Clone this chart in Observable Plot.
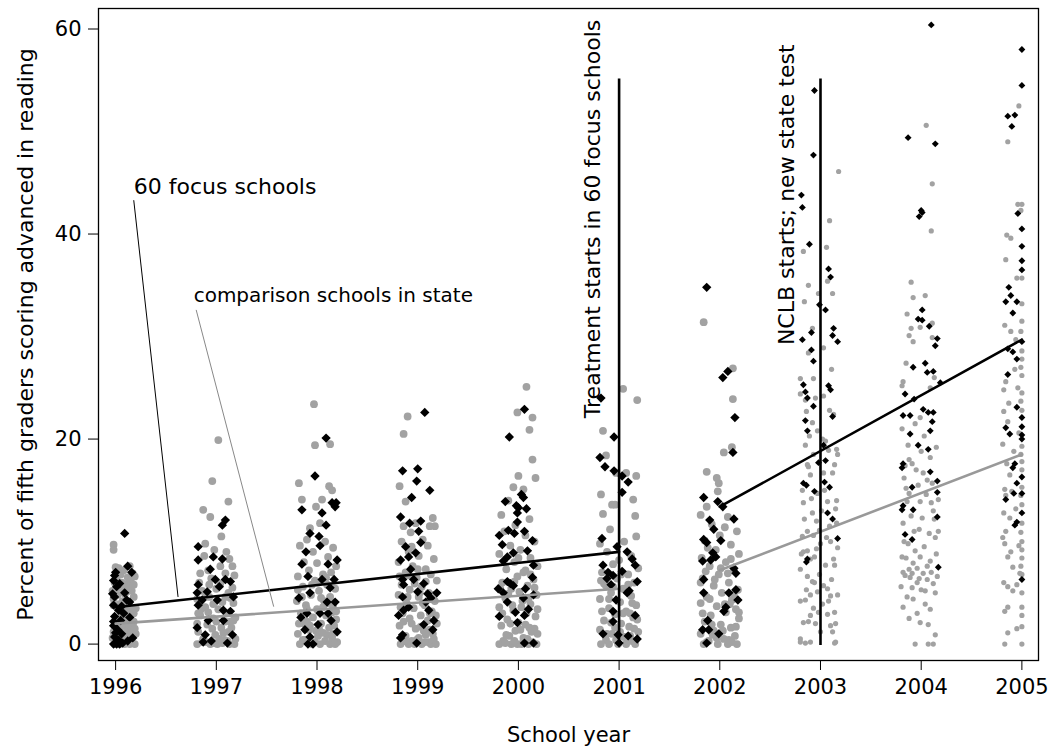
<!DOCTYPE html>
<html><head><meta charset="utf-8">
<script src="https://cdn.jsdelivr.net/npm/d3@7"></script>
<script src="https://cdn.jsdelivr.net/npm/@observablehq/plot@0.6"></script>
<style>html,body{margin:0;padding:0;background:#fff}svg{display:block}</style>
</head><body><div id="chart"></div>
<script>
// School years on the x axis
const years = [1996,1997,1998,1999,2000,2001,2002,2003,2004,2005];
const yTicks = [0,20,40,60];

// Each point: [jitter in hundredths of a year, percent advanced]
// 60 focus schools (black diamonds)
const focus1996 = [[9,10.8],[12,7.6],[16,7.0],[0,7.0],[-2,6.2],[1,5.6],[9,5.0],[-1,4.6],[14,4.1],[-2,3.8],[3,3.3],[8,3.0],[-1,2.7],[5,2.3],[-2,1.8],[2,1.4],[6,1.0],[-1,0.7],[3,0.4],[-2,0],[1,0],[4,0],[7,0.1],[17,0.6],[14,2.6],[11,4.3],[4,5.9],[-2,2.2],[0,1.1],[2,0.2],[12,0.3],[-3,4.9],[6,3.7],[-1,6.7]];
const focus1997 = [[9,12.1],[6,11.6],[-18,9.5],[-18,8.2],[-3,8.5],[6,8.3],[-6,7.3],[9,6.3],[14,6.1],[-18,5.8],[-9,5.1],[-19,5.0],[1,4.3],[17,4.6],[7,3.3],[14,3.2],[-18,3.8],[-8,2.3],[-19,1.6],[-11,0.9],[16,0.9],[11,0.1],[7,2.3],[-1,6.3],[-14,4.3],[3,5.6],[-5,0.3],[-13,0.2]];
const focus1998 = [[9,20.1],[-2,16.4],[15,13.8],[19,13.8],[18,13.4],[-15,13.1],[-7,10.8],[2,10.5],[5,12.8],[9,11.6],[3,9.6],[-11,9.0],[20,8.2],[11,7.8],[-15,7.8],[-9,6.6],[5,6.3],[17,6.3],[13,5.5],[-18,4.5],[-7,5.0],[10,4.1],[18,4.1],[-10,3.0],[3,3.0],[11,3.0],[1,1.9],[-12,1.4],[-7,0.7],[-9,0],[-4,0],[14,2.3],[-16,2.6],[20,1.2]];
const focus1999 = [[7,22.6],[-15,16.9],[0,17.1],[-1,15.9],[12,15.0],[-6,14.3],[-17,12.4],[-8,11.8],[3,12.0],[1,11.0],[3,9.9],[-12,9.5],[-2,8.9],[-17,8.2],[-9,8.5],[-7,7.3],[-15,6.3],[-4,6.3],[6,5.9],[-14,5.8],[0,5.1],[-15,4.6],[13,4.5],[8,4.1],[-9,3.6],[-14,3.3],[11,3.3],[16,2.3],[-19,2.8],[6,1.9],[15,1.4],[-15,0.9],[-17,0.6],[-1,0.1],[10,4.9],[19,5.0]];
const focus2000 = [[6,22.9],[-9,20.2],[-13,13.9],[3,14.6],[5,14.3],[-2,13.5],[0,13.3],[8,13.2],[-1,12.8],[-1,11.9],[-19,10.6],[-10,11.1],[-4,10.8],[6,11.0],[14,10.1],[-16,9.7],[-5,8.9],[9,9.1],[-15,8.1],[-11,8.5],[15,7.7],[14,6.5],[-11,6.1],[-8,5.9],[-5,5.7],[-20,5.4],[7,5.4],[-15,5.0],[5,4.5],[15,4.8],[-11,4.1],[10,3.4],[-3,3.1],[-19,2.7],[6,2.8],[-1,2.1],[6,0.1],[15,0.1]];
const focus2001 = [[-18,24.0],[-5,20.2],[-19,18.2],[-14,17.3],[-5,16.9],[3,16.4],[9,15.8],[3,14.8],[-17,10.3],[-2,9.5],[8,9.0],[-16,7.7],[16,7.7],[-11,7.0],[-6,6.7],[3,7.1],[18,6.1],[-8,5.8],[10,5.2],[8,5.0],[-6,3.2],[16,2.8],[-6,2.2],[-16,1.0],[-1,0.9],[9,0.8],[18,0.5],[0,0.1],[-12,6.4],[13,8.3],[-3,4.3]];
const focus2002 = [[-13,34.8],[3,26.0],[8,26.6],[15,22.1],[13,18.7],[-16,14.3],[-2,13.9],[3,13.4],[14,12.2],[-6,11.2],[-16,10.2],[-13,9.9],[1,10.1],[-7,8.9],[-4,8.5],[-9,8.2],[-17,8.1],[14,7.4],[16,6.9],[-16,6.3],[16,5.3],[-16,5.0],[9,5.0],[6,3.6],[4,3.2],[-12,2.3],[-17,1.4],[-11,1.4],[-1,1.0],[-13,0.1],[-10,12.1],[18,4.3]];
const focus2003 = [[-6,54.0],[-7,47.7],[-19,43.8],[-18,42.6],[-11,39.0],[8,36.6],[10,35.8],[-1,33.1],[5,32.6],[13,30.8],[12,30.1],[17,29.5],[-9,30.4],[-18,29.7],[-9,28.7],[-7,27.6],[-17,25.3],[-15,24.6],[-13,24.0],[8,25.2],[10,24.8],[-7,23.2],[-15,21.8],[-13,20.8],[12,22.2],[3,19.4],[-2,17.7],[5,17.9],[-17,15.7],[-14,15.5],[4,15.8],[9,15.3],[-6,14.9],[7,12.8],[12,12.2],[17,10.3],[-13,8.3],[-14,8.0]];
const focus2004 = [[10,60.4],[-13,49.4],[14,48.8],[0,42.3],[-2,41.7],[1,42.1],[1,32.6],[-3,31.7],[1,31.6],[8,31.0],[16,29.8],[14,29.1],[-8,27.0],[4,27.4],[6,26.5],[12,26.6],[19,25.5],[-16,24.4],[-7,23.9],[-18,22.3],[-11,22.3],[2,22.9],[7,22.6],[12,22.6],[11,21.7],[9,20.8],[-11,20.5],[-3,19.4],[7,19.0],[-18,17.6],[-19,17.2],[16,15.9],[9,16.8],[-9,15.3],[-18,13.5],[-19,13.1],[-8,13.1],[16,14.8],[16,12.4],[-16,10.7],[-9,10.2],[17,7.5]];
const focus2005 = [[0,58.0],[0,54.5],[-14,51.5],[-7,51.6],[-10,50.5],[-4,42.0],[0,40.5],[0,38.8],[0,37.4],[0,36.5],[-13,34.8],[-11,34.0],[-16,33.4],[-5,33.4],[-9,32.3],[0,29.5],[-14,28.8],[-9,28.5],[-5,27.8],[-14,26.3],[-5,23.1],[0,22.1],[-16,21.1],[-12,20.5],[0,21.2],[0,20.4],[0,20.0],[-7,17.6],[-9,17.2],[0,16.3],[-5,15.7],[0,14.7],[-8,14.7],[-16,14.1],[0,12.8],[-5,11.9],[-7,11.6],[0,6.3]];

// comparison schools in state (grey dots)
const comp1996 = [[-2,9.7],[-2,9.2],[0,7.5],[5,6.8],[8,7.2],[12,6.5],[-1,6.0],[4,5.5],[10,5.8],[16,5.2],[18,4.6],[2,4.8],[7,4.2],[13,4.0],[-2,3.8],[20,3.5],[5,3.2],[10,3.0],[15,2.8],[0,2.5],[18,2.2],[3,2.0],[8,1.8],[13,1.5],[-2,1.2],[20,1.0],[6,0.9],[11,0.6],[16,0.4],[1,0.3],[4,0],[9,0],[14,0],[19,0],[-1,0],[7,0.2],[12,1.3],[17,1.9],[2,3.5],[15,6.2],[9,4.9],[-3,5.2],[19,6.6],[6,6.0],[11,2.4],[3,7.4],[14,7.6],[18,3.0],[9,3.6],[-1,1.6],[16,1.1],[5,1.2],[11,5.1],[1,6.4],[7,5.4],[13,5.6],[17,6.9],[-2,4.4],[4,3.9],[11,3.4],[16,3.3],[0,1.8],[6,2.6],[14,1.8],[19,1.5],[8,0.5],[3,1.0],[-3,0.6],[12,2.0],[18,5.8]];
const comp1997 = [[2,19.9],[-4,15.9],[12,13.9],[-13,13.1],[-6,12.4],[5,10.5],[-11,9.8],[10,9.0],[16,7.6],[-16,6.9],[-12,8.6],[-2,9.2],[13,8.3],[-8,7.2],[4,7.6],[-17,6.0],[-5,6.4],[9,6.9],[18,6.7],[-14,5.2],[0,5.4],[12,5.0],[-19,4.4],[-7,4.6],[6,4.1],[17,4.0],[-11,3.6],[2,3.4],[10,3.0],[19,2.6],[-16,2.8],[-3,2.5],[14,2.2],[-9,1.9],[5,1.6],[-18,1.2],[12,1.2],[-1,0.9],[19,0.5],[-13,0.5],[8,0.4],[-6,0],[-19,0],[1,0],[13,0],[18,0],[-10,0.2],[6,0.1],[-15,3.4],[16,5.5],[-3,3.9],[9,2.2],[-18,3.0],[-8,3.1],[0,2.2],[7,1.1],[15,1.6],[-14,0.2],[-4,1.5],[3,0.5],[11,0.3],[17,2.3],[-10,4.9],[4,5.9],[14,4.5],[-19,2.0],[-2,0.1],[9,4.6],[-7,5.8]];
const comp1998 = [[-3,23.4],[13,19.5],[-2,19.4],[-18,15.7],[12,15.4],[15,15.0],[-15,14.1],[5,14.1],[-1,13.4],[-7,11.3],[16,9.4],[11,8.5],[-17,9.6],[-10,10.2],[3,11.8],[-4,9.0],[8,10.0],[-13,8.0],[19,7.6],[0,7.9],[-8,7.2],[14,7.0],[-19,6.6],[6,6.8],[-2,6.2],[10,5.8],[-14,5.6],[18,5.4],[2,5.2],[-6,4.8],[13,4.6],[-20,4.2],[7,4.2],[-11,3.8],[16,3.6],[0,3.4],[-16,3.0],[9,2.8],[-4,2.6],[19,2.4],[-13,2.0],[4,2.0],[12,1.6],[-8,1.4],[-19,1.0],[16,1.0],[1,0.8],[-12,0.4],[8,0.3],[20,0.2],[-17,0],[-5,0],[3,0],[13,0],[18,0],[-1,1.3],[-10,2.2],[15,3.1],[6,3.6],[-15,4.6],[-18,2.0],[-7,1.8],[2,1.5],[10,0.9],[17,1.8],[-14,0.4],[-2,0.2],[6,1.1],[15,0.6],[-10,3.4],[4,4.5],[11,4.0],[19,3.2],[-5,5.8],[9,6.5],[-19,5.3],[1,6.0]];
const comp1999 = [[-10,22.2],[-14,20.5],[-18,15.4],[-12,13.9],[15,12.3],[17,11.5],[12,11.5],[-14,11.5],[-7,10.9],[-2,11.8],[5,10.2],[-16,10.0],[10,9.6],[-9,9.0],[1,8.6],[16,8.3],[-19,8.0],[-5,7.6],[8,7.3],[-12,7.0],[13,6.8],[-1,6.5],[19,6.2],[-16,5.8],[4,5.6],[-8,5.3],[11,5.0],[-19,4.8],[1,4.6],[17,4.2],[-11,4.0],[7,3.8],[-4,3.5],[14,3.2],[-15,3.0],[3,2.8],[-8,2.5],[10,2.3],[19,2.0],[-18,1.8],[-2,1.5],[6,1.3],[15,1.0],[-12,0.8],[1,0.6],[-6,0.3],[11,0.2],[-17,0],[-9,0],[4,0],[13,0],[18,0],[-3,0],[8,0.9],[-14,2.2],[16,4.8],[0,7.3],[-6,9.5],[-17,3.6],[-6,2.0],[3,1.7],[12,1.4],[18,2.8],[-13,0.3],[-1,0.4],[7,0.2],[16,0.5],[-10,4.6],[5,4.0],[12,3.0],[-3,5.9],[8,6.1],[-18,6.6],[2,5.0],[-9,6.7]];
const comp2000 = [[8,25.1],[-1,22.6],[14,22.1],[11,20.9],[14,18.0],[17,16.2],[0,16.4],[-5,15.3],[5,15.1],[-10,14.0],[-17,12.6],[11,12.2],[-3,11.6],[-14,11.0],[7,10.6],[16,10.0],[-8,9.6],[2,9.2],[-19,8.8],[12,8.4],[-4,8.0],[19,7.6],[-12,7.3],[5,7.0],[-1,6.6],[15,6.3],[-16,6.0],[9,5.7],[-7,5.4],[1,5.1],[18,4.8],[-13,4.5],[4,4.2],[12,3.9],[-19,3.6],[-5,3.3],[8,3.0],[17,2.7],[-11,2.4],[0,2.1],[-17,1.8],[11,1.6],[-3,1.3],[19,1.0],[-9,0.8],[5,0.6],[-15,0.3],[14,0.2],[-1,0],[-7,0],[-19,0],[3,0],[10,0],[18,0],[-12,0.9],[7,1.9],[-6,3.8],[16,5.5],[-16,3.0],[-8,2.0],[2,1.4],[9,0.5],[16,1.5],[-13,0.1],[-4,0.3],[6,0.1],[13,1.2],[-10,4.9],[3,3.6],[10,4.4],[19,3.4],[-4,6.1],[7,7.2],[-18,5.4],[0,8.4],[12,6.8]];
const comp2001 = [[4,24.9],[18,23.8],[-16,20.8],[-13,18.4],[-3,16.7],[7,16.7],[17,16.4],[-18,14.6],[-7,13.6],[-4,13.6],[14,14.1],[16,12.5],[-16,12.7],[-9,11.2],[17,10.5],[-19,9.8],[5,10.0],[-12,9.0],[12,8.6],[0,8.2],[-6,7.8],[19,7.4],[-17,7.0],[9,6.8],[-2,6.4],[15,6.0],[-13,5.7],[4,5.4],[-8,5.0],[12,4.7],[-19,4.4],[1,4.1],[17,3.8],[-10,3.5],[7,3.2],[-4,2.9],[14,2.6],[-15,2.3],[2,2.0],[10,1.7],[-19,1.4],[19,1.2],[-7,1.0],[5,0.7],[-13,0.4],[13,0.3],[-1,0],[-10,0],[-18,0],[7,0],[16,0],[-4,1.6],[11,3.0],[-15,5.9],[-17,3.2],[-8,2.1],[1,1.2],[8,0.3],[15,1.5],[-12,1.0],[-3,0.4],[11,0.8],[18,2.4],[-10,4.4],[4,3.0],[13,4.0],[-6,5.6],[9,5.8],[-18,6.2],[2,6.8]];
const comp2002 = [[-16,31.4],[13,26.9],[13,23.9],[12,19.2],[4,18.7],[-13,16.8],[-3,16.2],[-1,15.7],[-2,14.9],[-13,13.4],[-19,12.6],[8,12.4],[-8,11.7],[17,11.0],[0,10.6],[-15,10.1],[11,9.7],[-4,9.2],[19,8.8],[-18,8.4],[6,8.0],[-10,7.6],[14,7.2],[-1,6.8],[-17,6.4],[9,6.0],[-6,5.7],[18,5.3],[2,5.0],[-13,4.6],[12,4.3],[-19,4.0],[-3,3.7],[16,3.4],[6,3.1],[-9,2.8],[19,2.5],[-15,2.2],[1,1.9],[11,1.6],[-6,1.3],[-19,1.0],[15,0.8],[4,0.5],[-11,0.3],[-2,0],[8,0],[17,0],[-16,0],[-7,0.9],[10,3.9],[-14,7.1],[5,11.4],[-17,3.0],[-8,1.9],[3,1.3],[9,0.4],[16,1.7],[-13,0.2],[-3,0.6],[12,0.2],[19,3.1],[-10,4.4],[5,3.9],[14,4.9],[-5,6.3],[8,6.9],[-19,6.0],[1,7.4],[-12,9.4],[11,8.3]];
const comp2003 = [[18,46.1],[9,41.3],[-17,38.3],[6,38.7],[-12,35.0],[7,35.4],[-2,34.2],[12,34.2],[-16,33.4],[-8,30.8],[-20,25.9],[-7,25.9],[-5,24.0],[3,24.2],[-15,23.8],[9,22.8],[13,22.4],[-3,20.8],[2,20.0],[8,18.9],[-7,18.5],[-13,17.5],[-10,16.5],[3,16.7],[12,16.7],[17,18.5],[-3,14.7],[-17,13.8],[7,13.9],[-8,12.8],[15,13.2],[-13,11.0],[-7,10.6],[0,9.8],[10,10.0],[-17,9.0],[-10,8.3],[5,7.7],[13,8.3],[-8,6.1],[3,5.7],[-3,5.1],[10,4.7],[-15,4.3],[-7,3.5],[7,2.9],[15,2.0],[-12,2.2],[-20,0.2],[-10,0.2],[12,1.2],[15,0.2],[-20,24.4],[-14,22.7],[16,19.0],[-12,17.3],[14,17.5],[-19,8.8],[-13,9.1],[-6,8.5],[-20,7.3],[-13,6.6],[-6,6.0],[14,7.7],[7,5.4],[17,4.8],[-10,4.8],[-20,4.2],[-10,2.8],[-2,3.1],[14,3.1],[-17,2.1],[10,1.8],[-20,0.5],[-15,0.1],[14,0.1],[0,1.2],[-4,12.0],[9,11.5],[-18,15.0],[1,13.0],[-11,20.3],[16,14.0],[-16,12.2],[-1,11.1],[6,10.4],[16,11.8],[-9,14.2],[4,15.0],[-15,19.4],[-4,9.3],[11,6.3],[-14,5.3],[2,3.9],[-5,2.0],[8,4.2],[-18,10.5],[17,9.4],[-1,6.8],[5,19.8],[-8,21.6],[11,26.8],[-12,28.4],[3,28.9]];
const comp2004 = [[5,50.6],[11,44.9],[10,40.3],[-8,33.8],[-14,32.2],[-10,30.8],[-1,30.9],[11,31.3],[-12,30.1],[-8,29.5],[11,29.9],[-18,25.6],[-19,25.2],[9,25.0],[-1,22.1],[-13,19.4],[-12,18.0],[-9,17.6],[-16,17.4],[2,16.7],[9,18.2],[11,15.7],[17,14.1],[12,13.0],[17,11.0],[-1,13.9],[-3,15.5],[-14,13.9],[-18,11.8],[14,10.4],[-13,9.8],[-16,6.7],[-11,6.5],[-4,6.0],[2,6.9],[6,6.3],[-8,7.9],[-1,8.5],[9,8.1],[-19,8.5],[-14,4.6],[-8,4.4],[-18,3.6],[-4,3.0],[9,3.4],[7,1.9],[-6,0],[7,0],[12,0],[14,0.9],[-19,21.0],[3,20.3],[15,19.2],[-6,21.5],[0,18.8],[-15,15.2],[5,14.6],[13,12.2],[-10,12.5],[-2,11.2],[8,10.8],[-17,10.0],[3,9.5],[15,8.8],[-6,9.1],[-12,7.3],[10,7.0],[-2,6.4],[-20,5.6],[4,5.2],[14,5.0],[-9,5.5],[-15,27.4],[13,26.0],[-10,35.3],[4,34.0],[-17,16.2],[-5,17.0],[6,16.0],[-12,14.7],[1,12.3],[10,13.8],[-7,11.0],[-15,8.4],[-4,7.4],[6,7.6],[12,5.9],[-18,7.0],[0,5.3],[-9,6.9],[4,3.9],[-1,2.1],[-12,2.5],[16,6.6]];
const comp2005 = [[-3,52.5],[-14,49.0],[-4,42.9],[0,42.9],[-1,42.3],[-15,39.9],[-11,39.6],[-16,37.5],[-5,35.7],[0,35.7],[-17,31.1],[-11,30.5],[-6,29.7],[-16,25.6],[-18,24.8],[-4,25.0],[-18,22.7],[-14,21.7],[-17,15.1],[-16,14.5],[-10,14.9],[-18,12.8],[-16,11.0],[-17,9.8],[-14,8.5],[-9,7.5],[-18,6.0],[-14,5.6],[-9,5.2],[-5,5.8],[-2,6.9],[0,3.6],[0,2.8],[0,1.7],[-14,3.6],[-14,1.1],[-17,0],[0,0],[0,33.2],[0,31.5],[-1,30.5],[0,28.6],[0,27.8],[-1,27.0],[0,26.2],[0,24.5],[-1,23.7],[0,22.8],[0,19.3],[-1,18.5],[0,17.8],[0,17.0],[0,15.3],[-1,14.5],[0,13.6],[0,11.8],[-1,10.9],[0,10.0],[0,9.2],[0,8.4],[-1,7.6],[0,6.8],[0,5.0],[-5,1.5],[-8,18.8],[-12,16.5],[-6,13.2],[-19,19.5],[-3,9.6],[-12,12.3],[-17,3.2],[-15,17.6],[-19,10.4],[-11,9.0],[-3,20.6],[-13,23.5],[-7,26.8]];

// fitted trend lines: [year, percent]
const trendFocusPre = [[1996,3.6],[2001,9.0]];
const trendCompPre = [[1996,2.0],[2001,5.4]];
const trendFocusPost = [[2002,13.4],[2005,29.7]];
const trendCompPost = [[2002,7.2],[2005,18.5]];

// events
const eventYears = [2001,2003];
const eventTops = [55,55];
const eventLabels = ["Treatment starts in 60 focus schools","NCLB starts; new state test"];

const seriesNames = ["60 focus schools","comparison schools in state"];

// ---- build tables ----
const focusLists = [focus1996,focus1997,focus1998,focus1999,focus2000,focus2001,focus2002,focus2003,focus2004,focus2005];
const compLists = [comp1996,comp1997,comp1998,comp1999,comp2000,comp2001,comp2002,comp2003,comp2004,comp2005];
const toRows = lists => lists.flatMap((pts,i)=>pts.map(([dx,v])=>({year:years[i], x:years[i]+dx/100, y:v})));
const focusRows = toRows(focusLists);
const compRows = toRows(compLists);
const events = eventYears.map((y,i)=>({year:y, top:eventTops[i], label:eventLabels[i]}));
const pt = a => ({x:a[0], y:a[1]});

const FONT = "DejaVu Sans";
const FS = 21;
const GREY = "#a2a2a2";

const chart = Plot.plot({
  width: 1060, height: 747,
  marginLeft: 98, marginRight: 22, marginTop: 8, marginBottom: 87,
  style: {fontFamily: FONT, fontSize: FS + "px", color: "#000", background: "#fff", overflow: "visible"},
  x: {domain: [1995.83, 2005.165]},
  y: {domain: [-1.6, 62]},
  r: {type: "identity"},
  marks: [
    Plot.frame({stroke: "#000", strokeWidth: 1.3}),
    Plot.axisX({ticks: years, tickFormat: d => String(d), tickSize: 10, tickPadding: 9, fontSize: FS,
      label: "School year", labelAnchor: "center", labelArrow: "none", labelOffset: 81}),
    Plot.axisY({ticks: yTicks, tickSize: 10, tickPadding: 7, fontSize: FS, label: null}),
    Plot.text(["Percent of fifth graders scoring advanced in reading"], {
      frameAnchor: "left", text: d => d, rotate: -90, dx: -73, lineAnchor: "middle", textAnchor: "middle", fontSize: 22}),
    Plot.dot(compRows, {x: "x", y: "y", r: d => d.year >= 2003 ? 2.6 : 3.9, fill: GREY, stroke: null}),
    Plot.dot(focusRows, {x: "x", y: "y", symbol: "diamond2", r: d => d.year >= 2003 ? 3.1 : 4.2, fill: "#000", stroke: null}),
    Plot.line(trendCompPre.map(pt), {x: "x", y: "y", stroke: "#999", strokeWidth: 2.6}),
    Plot.line(trendCompPost.map(pt), {x: "x", y: "y", stroke: "#999", strokeWidth: 2.6}),
    Plot.line(trendFocusPre.map(pt), {x: "x", y: "y", stroke: "#000", strokeWidth: 2.6}),
    Plot.line(trendFocusPost.map(pt), {x: "x", y: "y", stroke: "#000", strokeWidth: 2.6}),
    Plot.ruleX(events, {x: "year", y1: 0, y2: "top", stroke: "#000", strokeWidth: 2.6, strokeLinecap: "square"}),
    Plot.text([events[0]], {x: "year", y: 60.9, text: "label", rotate: -90, textAnchor: "end", lineAnchor: "middle", dx: -26, fontSize: 22}),
    Plot.text([events[1]], {x: "year", y: 58.5, text: "label", rotate: -90, textAnchor: "end", lineAnchor: "middle", dx: -34, fontSize: 22}),
    Plot.text([seriesNames[0]], {x: 1996.18, y: 44.6, text: d => d, textAnchor: "start", fontSize: 22}),
    Plot.text([seriesNames[1]], {x: 1996.775, y: 34.0, text: d => d, textAnchor: "start", fontSize: 20}),
    Plot.link([{x1: 1996.18, y1: 43.3, x2: 1996.62, y2: 4.6}], {x1: "x1", y1: "y1", x2: "x2", y2: "y2", stroke: "#000", strokeWidth: 1}),
    Plot.link([{x1: 1996.80, y1: 32.6, x2: 1997.57, y2: 3.65}], {x1: "x1", y1: "y1", x2: "x2", y2: "y2", stroke: "#888", strokeWidth: 1})
  ]
});
document.getElementById("chart").appendChild(chart);
</script>
</body></html>
